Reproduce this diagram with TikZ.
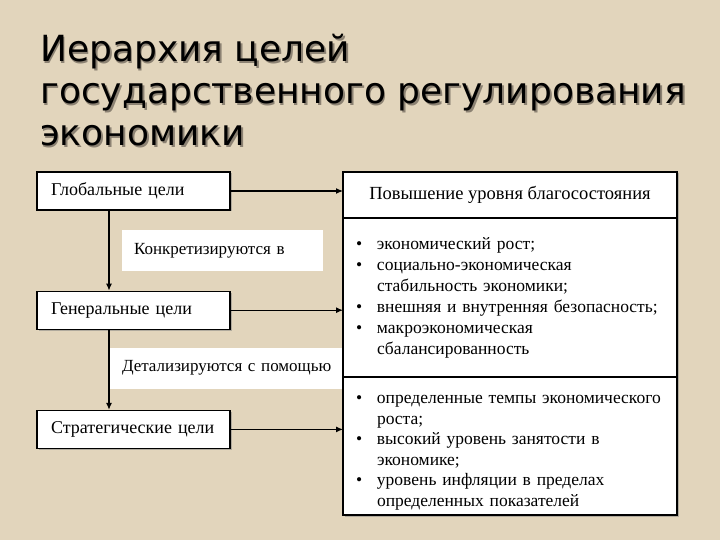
\documentclass[tikz,border=0pt]{standalone}
\usepackage{fontspec}
\setmainfont{Liberation Serif}
\newfontfamily\titlefont{DejaVu Sans}
\usepackage{xcolor}
\usepackage{tikz}
\usetikzlibrary{positioning, arrows.meta, shadows}
\definecolor{softbeige}{RGB}{226,213,188}
\definecolor{titleshade}{RGB}{140,130,115}
\newcommand{\shadowed}[1]{\makebox[0pt][l]{\hspace{1.8pt}\raisebox{-1.8pt}{\textcolor{titleshade}{#1}}}#1}
\newcommand{\bul}[1]{\hangindent=21pt\hangafter=1\noindent\makebox[21pt][l]{\textbullet}#1\par}

\begin{document}
\begin{tikzpicture}[
    x=1pt, y=-1pt,
    every node/.style={font=\fontsize{17.5}{21}\selectfont},
    titleline/.style={
        anchor=base west,
        inner sep=0pt,
        font=\titlefont\fontsize{36}{42}\selectfont
    },
    goalbox/.style={
        rectangle,
        draw=black,
        line width=1.2pt,
        fill=white,
        align=left,
        text width=165pt,
        inner xsep=14pt,
        inner ysep=0pt,
        minimum height=38pt,
        font=\fontsize{18}{21}\selectfont,
        drop shadow={shadow xshift=1.5pt, shadow yshift=-1.5pt, fill=black!50}
    },
    labelbox/.style={
        rectangle,
        fill=white,
        align=left,
        inner xsep=12pt,
        inner ysep=0pt,
        minimum height=41pt,
        font=\fontsize{17}{21}\selectfont
    },
    headbox/.style={
        rectangle,
        draw=black,
        line width=1.2pt,
        fill=white,
        outer sep=0pt,
        align=center,
        minimum width=334pt,
        minimum height=46pt,
        font=\fontsize{18.5}{21}\selectfont,
        drop shadow={shadow xshift=1.5pt, shadow yshift=-1.5pt, fill=black!50}
    },
    listbox/.style={
        rectangle,
        draw=black,
        line width=1.2pt,
        fill=white,
        outer sep=0pt,
        align=left,
        text width=308pt,
        inner xsep=13pt,
        inner ysep=0pt,
        drop shadow={shadow xshift=1.5pt, shadow yshift=-1.5pt, fill=black!50}
    },
    arrow/.style={-{Latex[length=7pt, width=6pt]}, line width=1.1pt, draw=black}
]

\fill[softbeige] (0,0) rectangle (720,540);
\useasboundingbox (0,0) rectangle (720,540);

\node[titleline] (title1) at (40,62) {\shadowed{Иерархия целей}};
\node[titleline] (title2) at (40,104) {\shadowed{государственного регулирования}};
\node[titleline] (title3) at (40,146) {\shadowed{экономики}};

\node[goalbox] (global) at (133.5,191) {Глобальные цели};
\node[goalbox, below=80pt of global] (general) {Генеральные цели};
\node[goalbox, below=80pt of general] (strategic) {Стратегические цели};

\node[labelbox, text width=177pt] (concrete) at (222.5,250.5) {Конкретизируются в};
\node[labelbox, text width=212pt] (detail) at (228,368) {Детализируются с помощью};

\node[headbox] (welfare) at (510,195) {Повышение уровня благосостояния};
\node[listbox, below=0pt of welfare, minimum height=159pt] (aims) {%
\bul{экономический рост;}
\bul{социально-экономическая\newline стабильность экономики;}
\bul{внешняя и внутренняя безопасность;}
\bul{макроэкономическая\newline сбалансированность}};
\node[listbox, below=0pt of aims, minimum height=138pt, font=\fontsize{17.5}{20.5}\selectfont] (targets) {%
\bul{\rule{0pt}{22pt}определенные темпы экономического\newline роста;}
\bul{высокий уровень занятости в\newline экономике;}
\bul{уровень инфляции в пределах\newline определенных показателей}};

\draw[arrow] ([xshift=-24.5pt]global.south) -- ([xshift=-24.5pt]general.north);
\draw[arrow] ([xshift=-24.5pt]general.south) -- ([xshift=-24.5pt]strategic.north);
\draw[arrow] (global.east) -- (global.east -| welfare.west);
\draw[arrow] (general.east) -- (general.east -| aims.west);
\draw[arrow] (strategic.east) -- (strategic.east -| targets.west);

\end{tikzpicture}
\end{document}
